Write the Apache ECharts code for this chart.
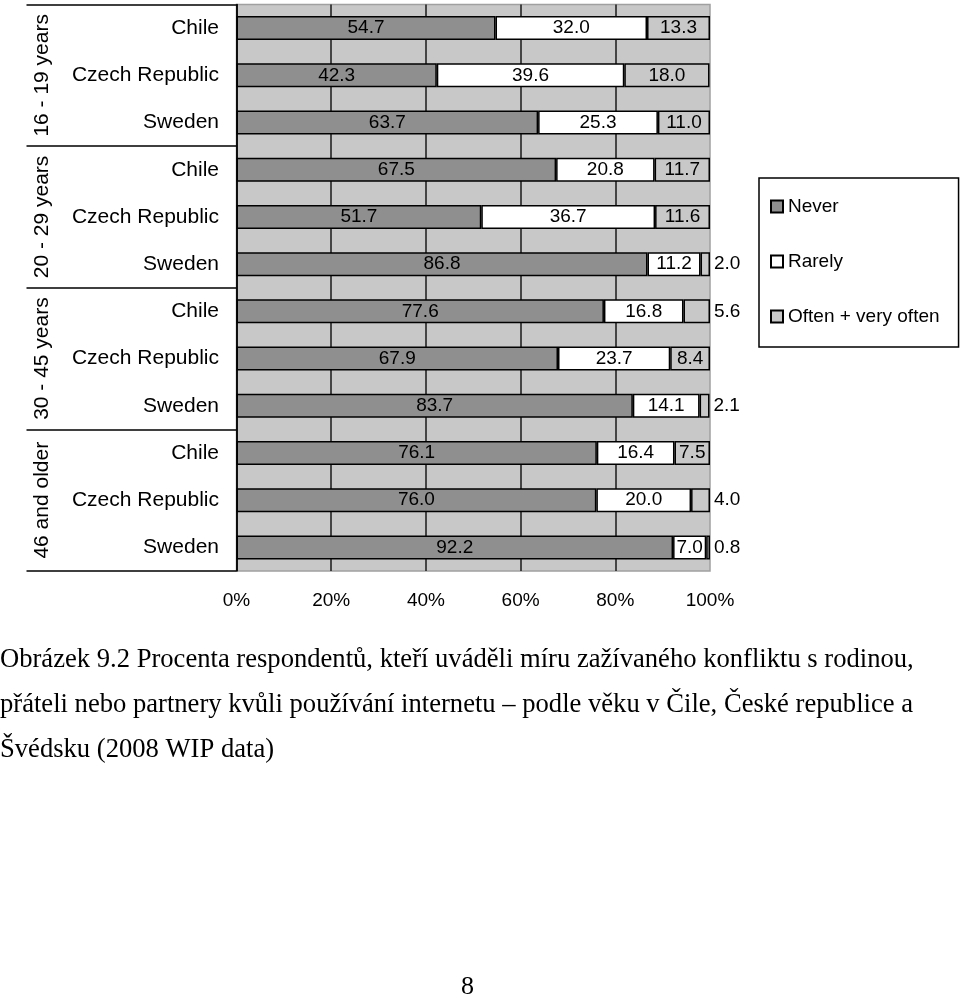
<!DOCTYPE html>
<html>
<head>
<meta charset="utf-8">
<script src="https://cdn.jsdelivr.net/npm/echarts@6/dist/echarts.min.js"></script>
<style>
html,body{margin:0;padding:0;background:#fff;}
#chart{width:960px;height:998px;}
</style>
</head>
<body>
<div id="chart"></div>
<script>
const ageGroups = ['16 - 19 years', '20 - 29 years', '30 - 45 years', '46 and older'];
const countries = ['Chile', 'Czech Republic', 'Sweden', 'Chile', 'Czech Republic', 'Sweden',
                   'Chile', 'Czech Republic', 'Sweden', 'Chile', 'Czech Republic', 'Sweden'];
const never  = [54.7, 42.3, 63.7, 67.5, 51.7, 86.8, 77.6, 67.9, 83.7, 76.1, 76.0, 92.2];
const rarely = [32.0, 39.6, 25.3, 20.8, 36.7, 11.2, 16.8, 23.7, 14.1, 16.4, 20.0, 7.0];
const often  = [13.3, 18.0, 11.0, 11.7, 11.6, 2.0, 5.6, 8.4, 2.1, 7.5, 4.0, 0.8];
const seriesNames = ['Never', 'Rarely', 'Often + very often'];
const xTicks = [0, 20, 40, 60, 80, 100];
const captionLines = [
  'Obrázek 9.2 Procenta respondentů, kteří uváděli míru zažívaného konfliktu s rodinou,',
  'přáteli nebo partnery kvůli používání internetu – podle věku v Čile, České republice a',
  'Švédsku (2008 WIP data)'
];
const pageNumber = '8';

const SANS = 'Arial, "Liberation Sans", sans-serif';
const SERIF = '"Times New Roman", "Liberation Serif", serif';
const colors = ['#8f8f8f', '#ffffff', '#c8c8c8'];

function makeData(arr, smallOutside) {
  return arr.map(v => {
    const item = { value: v };
    if (smallOutside && v < 7) {
      item.label = { position: 'right', distance: 4 };
    }
    return item;
  });
}

const chart = echarts.init(document.getElementById('chart'), null, { renderer: 'canvas' });

const barLabel = {
  show: true,
  position: 'inside',
  color: '#000',
  fontFamily: SANS,
  fontSize: 19,
  formatter: p => Number(p.value).toFixed(1)
};

chart.setOption({
  animation: false,
  backgroundColor: '#ffffff',
  color: colors,
  grid: {
    left: 236.5, right: 250, top: 4.5, bottom: 427,
    show: true, backgroundColor: '#c8c8c8', borderColor: '#a0a0a0', borderWidth: 1.5
  },
  legend: {
    orient: 'vertical',
    left: 759, top: 178,
    data: seriesNames,
    icon: 'rect',
    itemWidth: 12, itemHeight: 12,
    itemGap: 36,
    borderColor: '#000', borderWidth: 1.5,
    padding: [19, 19, 21, 11],
    textStyle: { fontFamily: SANS, fontSize: 19, color: '#000' }
  },
  xAxis: {
    type: 'value',
    min: xTicks[0], max: xTicks[xTicks.length - 1], interval: xTicks[1] - xTicks[0],
    axisLine: { show: false },
    axisTick: { show: false },
    axisLabel: { formatter: '{value}%', fontFamily: SANS, fontSize: 19, color: '#000', margin: 20 },
    splitLine: { show: true, showMaxLine: false, lineStyle: { color: '#1a1a1a', width: 1.5 } }
  },
  yAxis: [
    {
      type: 'category', data: countries, inverse: true,
      axisLine: { show: true, lineStyle: { color: '#000', width: 1.5 } },
      axisTick: { show: false },
      axisLabel: { interval: 0, fontFamily: SANS, fontSize: 21, color: '#000', margin: 17.5 }
    },
    {
      type: 'category', data: ageGroups, inverse: true, position: 'left',
      axisLine: { show: false },
      axisTick: { show: true, interval: 0, length: 210, lineStyle: { color: '#000', width: 1.5 } },
      axisLabel: { interval: 0, rotate: 90, fontFamily: SANS, fontSize: 21, color: '#000', margin: 184 }
    }
  ],
  series: [
    { name: seriesNames[0], data: makeData(never, false) },
    { name: seriesNames[1], data: makeData(rarely, false) },
    { name: seriesNames[2], data: makeData(often, true) }
  ].map(s => Object.assign({
    type: 'bar', stack: 'total', yAxisIndex: 0,
    barWidth: 24,
    itemStyle: { borderColor: '#000', borderWidth: 1.5 },
    label: barLabel,
    emphasis: { disabled: true }
  }, s)),
  graphic: [
    {
      type: 'text', left: 0, top: 637, scaleX: 0.95,
      style: {
        text: captionLines.join('\n'),
        font: '28px ' + SERIF,
        lineHeight: 45,
        fill: '#000'
      }
    },
    {
      type: 'text', left: 461, top: 974,
      style: { text: pageNumber, font: '26px ' + SERIF, fill: '#000' }
    }
  ]
});
</script>
</body>
</html>
